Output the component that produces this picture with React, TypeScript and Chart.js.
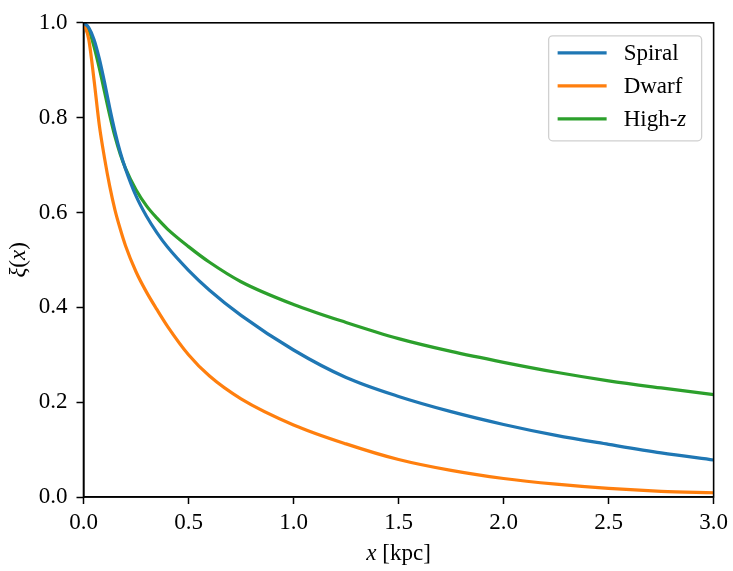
import { useEffect, useRef } from "react";
import { Chart, registerables } from "chart.js";

Chart.register(...registerables);

// x positions in kpc
const xs = [
  0, 0.025, 0.05, 0.075, 0.1, 0.125, 0.15, 0.175, 0.2, 0.25, 0.3, 0.35, 0.4,
  0.5, 0.6, 0.75, 1.0, 1.25, 1.5, 1.75, 2.0, 2.25, 2.5, 2.75, 3.0,
];

const spiral = [
  1.0, 0.99, 0.965, 0.925, 0.875, 0.82, 0.77, 0.727, 0.692, 0.635, 0.592,
  0.557, 0.527, 0.478, 0.436, 0.383, 0.31, 0.252, 0.212, 0.18, 0.153, 0.13,
  0.111, 0.093, 0.078,
];

const dwarf = [
  1.0, 0.965, 0.88, 0.785, 0.715, 0.655, 0.605, 0.565, 0.53, 0.475, 0.432,
  0.395, 0.36, 0.3, 0.255, 0.207, 0.152, 0.112, 0.079, 0.056, 0.039, 0.027,
  0.018, 0.012, 0.009,
];

const highZ = [
  1.0, 0.985, 0.95, 0.905, 0.855, 0.805, 0.76, 0.723, 0.693, 0.648, 0.614,
  0.588, 0.565, 0.528, 0.495, 0.454, 0.406, 0.368, 0.334, 0.307, 0.284,
  0.263, 0.245, 0.23, 0.216,
];

const xTickValues = [0, 0.5, 1.0, 1.5, 2.0, 2.5, 3.0];
const yTickValues = [0, 0.2, 0.4, 0.6, 0.8, 1.0];

const FONT = "'Liberation Serif', 'Times New Roman', serif";

type Part = { text: string; italic?: boolean };

const drawParts = (
  ctx: CanvasRenderingContext2D,
  parts: Part[],
  x: number,
  y: number,
  size: number,
  align: "left" | "center"
) => {
  const fontOf = (p: Part) => `${p.italic ? "italic " : ""}${size}px ${FONT}`;
  let total = 0;
  parts.forEach((p) => {
    ctx.font = fontOf(p);
    total += ctx.measureText(p.text).width;
  });
  let cx = align === "center" ? x - total / 2 : x;
  ctx.textAlign = "left";
  parts.forEach((p) => {
    ctx.font = fontOf(p);
    ctx.fillText(p.text, cx, y);
    cx += ctx.measureText(p.text).width;
  });
};

const legendItems: { parts: Part[]; color: string }[] = [
  { parts: [{ text: "Spiral" }], color: "#1f77b4" },
  { parts: [{ text: "Dwarf" }], color: "#ff7f0e" },
  { parts: [{ text: "High-" }, { text: "z", italic: true }], color: "#2ca02c" },
];

const decorations = {
  id: "decorations",
  afterDraw(chart: Chart) {
    const ctx = chart.ctx;
    const { left, right, top, bottom } = chart.chartArea;
    ctx.save();

    // frame
    ctx.strokeStyle = "#000";
    ctx.lineWidth = 1.6;
    ctx.strokeRect(left, top, right - left, bottom - top);

    // axis titles
    ctx.fillStyle = "#000";
    ctx.textBaseline = "alphabetic";
    drawParts(
      ctx,
      [{ text: "x", italic: true }, { text: " [kpc]" }],
      (left + right) / 2,
      560,
      23,
      "center"
    );
    ctx.save();
    ctx.translate(25, (top + bottom) / 2);
    ctx.rotate(-Math.PI / 2);
    drawParts(
      ctx,
      [{ text: "ξ", italic: true }, { text: "(" }, { text: "x", italic: true }, { text: ")" }],
      0,
      0,
      23,
      "center"
    );
    ctx.restore();

    // legend
    const bx = right - 165;
    const by = top + 13;
    const bw = 153;
    const bh = 105;
    ctx.beginPath();
    ctx.roundRect(bx, by, bw, bh, 4);
    ctx.fillStyle = "rgba(255,255,255,0.8)";
    ctx.fill();
    ctx.strokeStyle = "#d0d0d0";
    ctx.lineWidth = 1.3;
    ctx.stroke();
    legendItems.forEach((item, i) => {
      const ry = by + 17 + i * 33;
      ctx.beginPath();
      ctx.moveTo(bx + 9, ry);
      ctx.lineTo(bx + 58, ry);
      ctx.strokeStyle = item.color;
      ctx.lineWidth = 3.2;
      ctx.stroke();
      ctx.fillStyle = "#000";
      ctx.textBaseline = "middle";
      drawParts(ctx, item.parts, bx + 75, ry + 1, 23, "left");
    });

    ctx.restore();
  },
};

export default function App() {
  const canvasRef = useRef<HTMLCanvasElement>(null);
  const chartRef = useRef<Chart | null>(null);

  useEffect(() => {
    if (!canvasRef.current) return;
    if (chartRef.current) chartRef.current.destroy();

    const toPoints = (ys: number[]) => xs.map((x, i) => ({ x, y: ys[i] }));
    const series = [
      { label: "Spiral", data: toPoints(spiral), color: "#1f77b4" },
      { label: "Dwarf", data: toPoints(dwarf), color: "#ff7f0e" },
      { label: "High-z", data: toPoints(highZ), color: "#2ca02c" },
    ];

    const tickFont = { family: FONT, size: 23 };

    chartRef.current = new Chart(canvasRef.current, {
      type: "line",
      data: {
        datasets: series.map((s) => ({
          label: s.label,
          data: s.data,
          borderColor: s.color,
          backgroundColor: s.color,
          borderWidth: 3.2,
          pointRadius: 0,
          cubicInterpolationMode: "monotone" as const,
          fill: false,
        })),
      },
      options: {
        animation: false,
        responsive: true,
        maintainAspectRatio: false,
        layout: { padding: { left: 0, right: 16, top: 20, bottom: 0 } },
        plugins: {
          legend: { display: false },
          tooltip: { enabled: false },
        },
        scales: {
          x: {
            type: "linear",
            min: 0,
            max: 3,
            afterBuildTicks: (scale) => {
              scale.ticks = xTickValues.map((v) => ({ value: v }));
            },
            afterFit: (scale) => {
              scale.height = 74;
            },
            ticks: {
              font: tickFont,
              color: "#000",
              padding: 5,
              maxRotation: 0,
              autoSkip: false,
              callback: (v) => Number(v).toFixed(1),
            },
            grid: {
              drawOnChartArea: false,
              drawTicks: true,
              tickLength: 7,
              tickWidth: 1.5,
              tickColor: "#000",
            },
            border: { display: true, color: "#000", width: 1.6 },
          },
          y: {
            type: "linear",
            min: 0,
            max: 1,
            afterBuildTicks: (scale) => {
              scale.ticks = yTickValues.map((v) => ({ value: v }));
            },
            afterFit: (scale) => {
              scale.width = 83.5;
            },
            ticks: {
              font: tickFont,
              color: "#000",
              padding: 9,
              autoSkip: false,
              callback: (v) => Number(v).toFixed(1),
            },
            grid: {
              drawOnChartArea: false,
              drawTicks: true,
              tickLength: 7,
              tickWidth: 1.5,
              tickColor: "#000",
            },
            border: { display: true, color: "#000", width: 1.6 },
          },
        },
      },
      plugins: [decorations],
    });

    return () => {
      if (chartRef.current) {
        chartRef.current.destroy();
        chartRef.current = null;
      }
    };
  }, []);

  return (
    <div
      style={{
        position: "absolute",
        left: 0,
        top: 0,
        width: 733,
        height: 571,
        background: "#fff",
      }}
    >
      <canvas ref={canvasRef} />
    </div>
  );
}
